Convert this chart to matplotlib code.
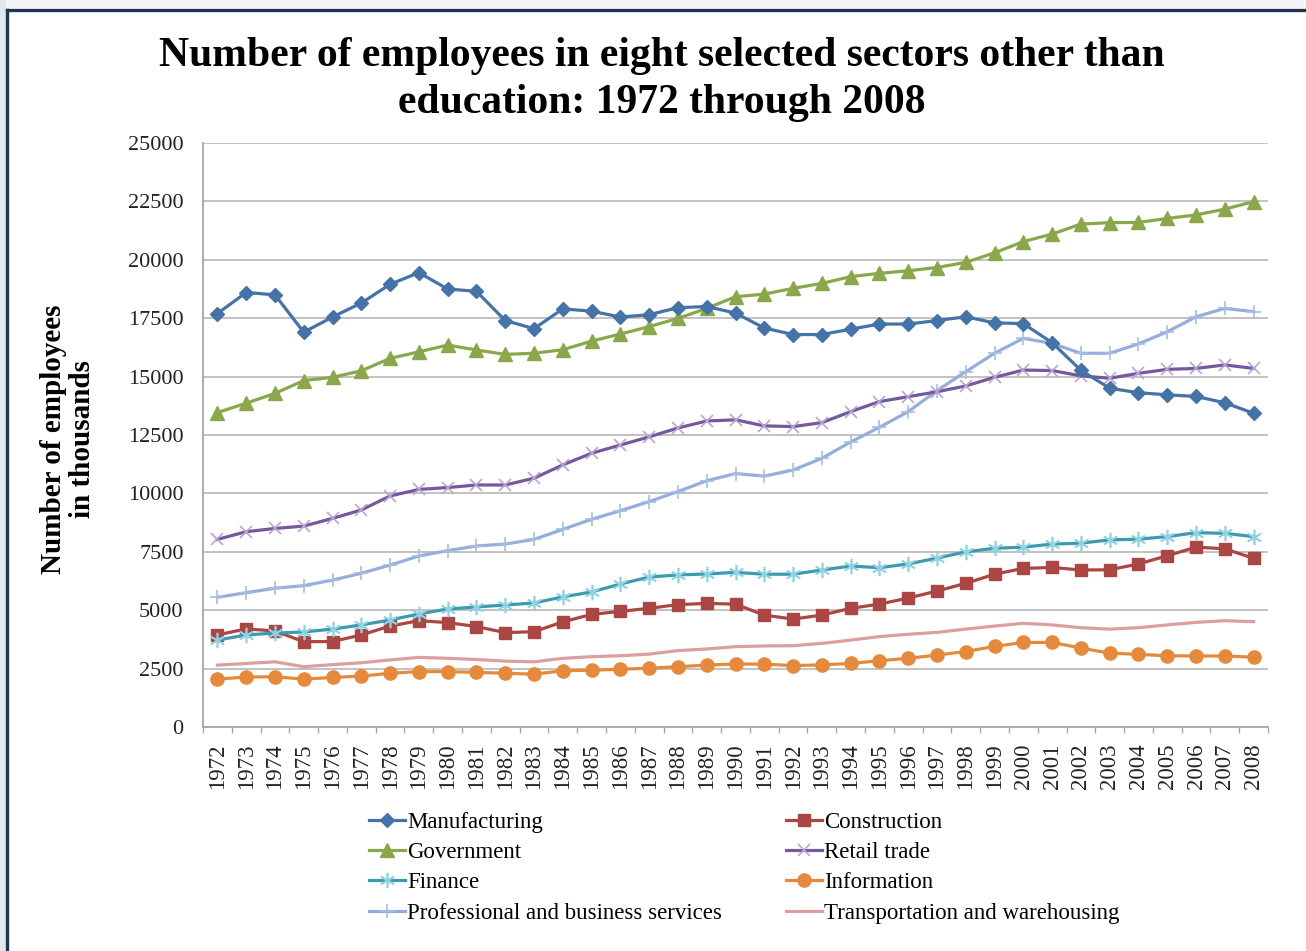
import matplotlib
matplotlib.use("Agg")
import matplotlib.pyplot as plt
from matplotlib.lines import Line2D
from matplotlib.patches import Rectangle

years = list(range(1972, 2009))
year_labels = [str(y) for y in years]

manufacturing = [17700, 18600, 18500, 16900, 17550, 18150, 18950, 19450, 18750, 18650,
                 17400, 17050, 17900, 17800, 17550, 17650, 17950, 18000, 17720, 17080,
                 16800, 16800, 17030, 17250, 17250, 17400, 17560, 17300, 17270, 16450,
                 15270, 14500, 14310, 14220, 14150, 13880, 13430]
construction = [3940, 4200, 4110, 3650, 3660, 3940, 4320, 4550, 4470, 4300,
                4040, 4080, 4500, 4820, 4950, 5080, 5240, 5290, 5260, 4790,
                4620, 4790, 5080, 5260, 5520, 5820, 6150, 6540, 6790, 6830,
                6720, 6730, 6980, 7330, 7700, 7630, 7220]
government = [13460, 13860, 14280, 14830, 14970, 15250, 15780, 16060, 16350, 16140,
              15950, 16000, 16150, 16520, 16820, 17140, 17490, 17920, 18420, 18530,
              18780, 18990, 19280, 19420, 19530, 19670, 19890, 20300, 20780, 21100,
              21530, 21590, 21600, 21770, 21920, 22170, 22490]
retail = [8030, 8360, 8500, 8600, 8930, 9290, 9890, 10170, 10250, 10360,
          10360, 10650, 11220, 11720, 12070, 12420, 12800, 13100, 13150, 12890,
          12860, 13030, 13500, 13930, 14140, 14350, 14600, 14970, 15280, 15260,
          15030, 14930, 15140, 15310, 15350, 15500, 15350]
finance = [3720, 3940, 4020, 4070, 4190, 4370, 4580, 4840, 5050, 5140,
           5220, 5310, 5570, 5780, 6120, 6420, 6510, 6550, 6620, 6540,
           6540, 6720, 6890, 6820, 6980, 7230, 7500, 7650, 7700, 7830,
           7870, 8010, 8040, 8150, 8320, 8290, 8150]
information = [2050, 2140, 2150, 2050, 2120, 2180, 2300, 2370, 2370, 2340,
               2300, 2260, 2410, 2430, 2470, 2520, 2580, 2650, 2700, 2690,
               2630, 2660, 2720, 2840, 2940, 3080, 3230, 3450, 3620, 3620,
               3380, 3160, 3110, 3050, 3040, 3040, 2990]
professional = [5550, 5750, 5940, 6050, 6290, 6580, 6930, 7320, 7550, 7750,
                7830, 8030, 8460, 8890, 9260, 9650, 10080, 10540, 10850, 10740,
                11000, 11500, 12200, 12830, 13500, 14400, 15210, 16000, 16640, 16420,
                16000, 16000, 16400, 16920, 17560, 17920, 17780]
transportation = [2650, 2720, 2790, 2580, 2670, 2750, 2870, 2980, 2940, 2890,
                  2820, 2790, 2940, 3010, 3050, 3120, 3270, 3340, 3440, 3470,
                  3480, 3580, 3720, 3870, 3970, 4050, 4190, 4320, 4440, 4370,
                  4250, 4190, 4250, 4370, 4480, 4550, 4510]

y_ticks = [0, 2500, 5000, 7500, 10000, 12500, 15000, 17500, 20000, 22500, 25000]

SERIF = ["Liberation Serif", "DejaVu Serif"]
plt.rcParams["font.family"] = SERIF

W, H = 1306, 951
fig = plt.figure(figsize=(W / 100, H / 100), dpi=100)
fig.patch.set_facecolor("white")

# slide frame
fig.add_artist(Rectangle((0, 1 - 8 / H), 1, 8 / H, transform=fig.transFigure,
                         facecolor="#F3F5F8", edgecolor="none", zorder=0))
fig.add_artist(Rectangle((0, 0), 6 / W, 1, transform=fig.transFigure,
                         facecolor="#E3E8EF", edgecolor="none", zorder=0))
fig.add_artist(Line2D([7 / W, 1], [1 - 9.5 / H, 1 - 9.5 / H], transform=fig.transFigure,
                      color="#1F3550", lw=2.4, zorder=1))
fig.add_artist(Line2D([7 / W, 7 / W], [0, 1 - 9.5 / H], transform=fig.transFigure,
                      color="#1F3550", lw=2.4, zorder=1))

ax = fig.add_axes([203 / W, 1 - 727 / H, (1268 - 203) / W, (727 - 143) / H])
x = list(range(len(years)))

series = {
    "Manufacturing": dict(y=manufacturing, color="#4572A7", marker="D", ms=7.5,
                          mfc="#4572A7", mec="#4572A7", mew=1),
    "Construction": dict(y=construction, color="#AA4643", marker="s", ms=8.5,
                         mfc="#AA4643", mec="#AA4643", mew=1),
    "Government": dict(y=government, color="#8AA84B", marker="^", ms=9.5,
                       mfc="#8AA84B", mec="#8AA84B", mew=1),
    "Retail trade": dict(y=retail, color="#74599C", marker="x", ms=9,
                         mfc="none", mec="#B7A6D3", mew=1.2),
    "Finance": dict(y=finance, color="#3F9AB0", marker=(6, 2, 0), ms=11,
                    mfc="none", mec="#8FD3E3", mew=1.2),
    "Information": dict(y=information, color="#E58A3C", marker="o", ms=9.5,
                        mfc="#E58A3C", mec="#E58A3C", mew=1),
    "Professional and business services": dict(y=professional, color="#95AEDB", marker="+", ms=10,
                                               mfc="none", mec="#A8BCE3", mew=1.2),
    "Transportation and warehousing": dict(y=transportation, color="#DC9E9E", marker=None, ms=0,
                                           mfc="none", mec="none", mew=0),
}

draw_order = ["Transportation and warehousing", "Information", "Construction", "Finance",
              "Professional and business services", "Retail trade", "Government", "Manufacturing"]
handles = {}
for i, name in enumerate(draw_order):
    s = series[name]
    (ln,) = ax.plot(x, s["y"], color=s["color"], lw=2.3, marker=s["marker"], ms=s["ms"],
                    mfc=s["mfc"], mec=s["mec"], mew=s["mew"], zorder=3 + i,
                    solid_joinstyle="round")
    handles[name] = ln

ax.set_xlim(-0.5, len(years) - 0.5)
ax.set_ylim(0, 25000)
ax.set_yticks(y_ticks)
ax.set_yticklabels([str(v) for v in y_ticks], fontsize=16, color="#222222")
ax.tick_params(axis="y", length=0, pad=14)
ax.set_xticks(x)
ax.set_xticklabels(year_labels, rotation=90, fontsize=16.5, color="#222222")
ax.set_xticks([i - 0.5 for i in range(len(years) + 1)], minor=True)
ax.tick_params(axis="x", which="major", length=0, pad=12)
ax.tick_params(axis="x", which="minor", length=4, width=1, color="#A6A6A6", direction="out")
ax.grid(axis="y", color="#BDBDBD", lw=1.3)
ax.set_axisbelow(True)
for sp in ["top", "right"]:
    ax.spines[sp].set_visible(False)
for sp in ["left", "bottom"]:
    ax.spines[sp].set_color("#A6A6A6")
    ax.spines[sp].set_linewidth(1.3)

# title
fig.text(662 / W, 1 - 66 / H, "Number of employees in eight selected sectors other than",
         ha="center", va="baseline", fontsize=30, fontweight="bold")
fig.text(662 / W, 1 - 113 / H, "education: 1972 through 2008",
         ha="center", va="baseline", fontsize=30, fontweight="bold")

# y label
fig.text(68 / W, 1 - 439 / H, "Number of employees\nin thousands", rotation=90,
         ha="center", va="center", multialignment="center", fontsize=21,
         fontweight="bold", linespacing=1.05)

# legend
left_names = ["Manufacturing", "Government", "Finance", "Professional and business services"]
right_names = ["Construction", "Retail trade", "Information", "Transportation and warehousing"]
common = dict(frameon=False, fontsize=16.5, handlelength=1.55, handletextpad=0.12,
              labelspacing=0.4, borderpad=0, borderaxespad=0, loc="upper left")
leg1 = fig.legend([handles[n] for n in left_names], left_names,
                  bbox_to_anchor=(369 / W, 1 - 812 / H), **common)
leg2 = fig.legend([handles[n] for n in right_names], right_names,
                  bbox_to_anchor=(786 / W, 1 - 812 / H), **common)

fig.savefig("out.png", dpi=100, facecolor=fig.get_facecolor())
